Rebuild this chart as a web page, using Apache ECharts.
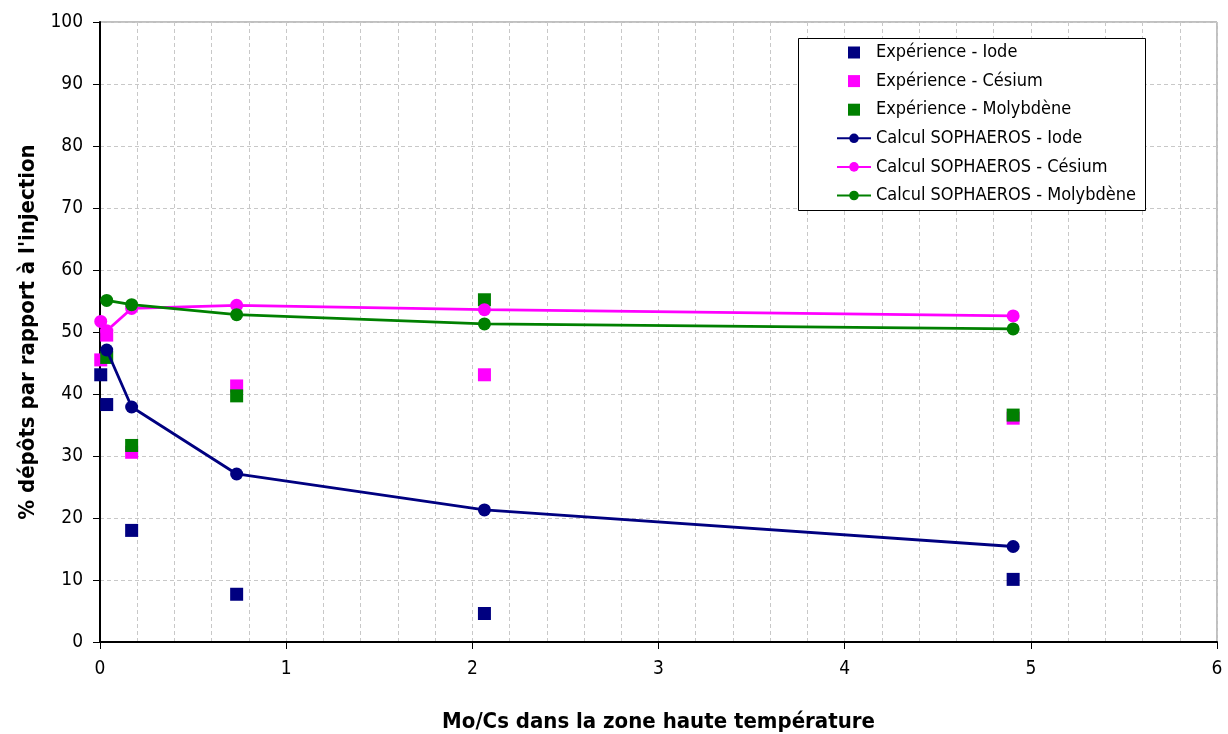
<!DOCTYPE html>
<html><head><meta charset="utf-8">
<script src="https://cdn.jsdelivr.net/npm/echarts@6/dist/echarts.min.js"></script>
<style>html,body{margin:0;padding:0;background:#fff;overflow:hidden}#c{width:1228px;height:734px}</style>
</head><body><div id="c"></div>
<script>
// Mo/Cs values
const expIodeX = [0.004, 0.036, 0.17, 0.734, 2.065, 4.905];
const expIodeY = [43.1, 38.3, 18.0, 7.7, 4.6, 10.1];
const expCsX = [0.004, 0.036, 0.17, 0.734, 2.065, 4.905];
const expCsY = [45.5, 49.5, 30.6, 41.3, 43.1, 36.1];
const expMoX = [0.036, 0.17, 0.734, 2.065, 4.905];
const expMoY = [45.9, 31.7, 39.7, 55.2, 36.6];
const calcIodeX = [0.036, 0.17, 0.734, 2.065, 4.905];
const calcIodeY = [47.1, 37.9, 27.1, 21.3, 15.4];
const calcCsX = [0.004, 0.036, 0.17, 0.734, 2.065, 4.905];
const calcCsY = [51.7, 50.2, 53.8, 54.3, 53.6, 52.6];
const calcMoX = [0.036, 0.17, 0.734, 2.065, 4.905];
const calcMoY = [55.1, 54.4, 52.8, 51.3, 50.5];
const names = ['Expérience - Iode','Expérience - Césium','Expérience - Molybdène',
  'Calcul SOPHAEROS - Iode','Calcul SOPHAEROS - Césium','Calcul SOPHAEROS - Molybdène'];
const colors = ['#000080','#ff00ff','#008000'];

const zip = (xs, ys) => xs.map((x, i) => [x, ys[i]]);
const font = '"DejaVu Sans Condensed", "DejaVu Sans"';
const sq = 'path://M0 0H10V10H0Z';

function scatter(name, xs, ys, c) {
  return {name, type:'scatter', data: zip(xs, ys), symbol:'rect', symbolSize:13,
    itemStyle:{color:c, opacity:1}, z:3};
}
function line(name, xs, ys, c) {
  return {name, type:'line', data: zip(xs, ys), symbol:'circle', symbolSize:13,
    showSymbol:true, lineStyle:{color:c, width:2.8}, itemStyle:{color:c, opacity:1}, z:4};
}

const chart = echarts.init(document.getElementById('c'), null, {renderer:'canvas', width:1228, height:734});
chart.setOption({
  animation:false,
  textStyle:{fontFamily:font},
  grid:{left:100, top:22, width:1117, height:620, show:true, borderColor:'#808080', borderWidth:1,
    containLabel:false, outerBoundsMode:'none'},
  graphic:[{type:'rect', left:798, top:38, z:5, silent:true,
    shape:{width:347, height:172}, style:{fill:'#fff', stroke:'#000', lineWidth:1}}],
  legend:{
    orient:'vertical', left:826, top:43, z:6,
    padding:[0,0,0,10], symbolKeepAspect:true,
    itemWidth:34, itemHeight:12, itemGap:9.6,
    textStyle:{fontFamily:font, fontSize:18, color:'#000', lineHeight:19},
    data: names.map((n,i)=> i<3 ? {name:n, icon:sq} : {name:n})
  },
  xAxis:{
    type:'value', min:0, max:6, interval:1,
    name:'Mo/Cs dans la zone haute température', nameLocation:'middle', nameGap:69,
    nameTextStyle:{fontFamily:font, fontSize:22, fontWeight:'bold', color:'#000'},
    axisLine:{lineStyle:{color:'#000', width:2}},
    axisTick:{show:true, length:7, lineStyle:{color:'#000'}},
    axisLabel:{fontSize:19, color:'#000', margin:18, fontFamily:font},
    splitLine:{show:true, lineStyle:{color:'#c8c8c8', type:[4,3]}},
    minorTick:{show:false, splitNumber:5},
    minorSplitLine:{show:true, lineStyle:{color:'#c8c8c8', type:[4,3]}}
  },
  yAxis:{
    type:'value', min:0, max:100, interval:10,
    name:"% dépôts par rapport à l'injection", nameLocation:'middle', nameGap:61,
    nameTextStyle:{fontFamily:font, fontSize:22, fontWeight:'bold', color:'#000'},
    axisLine:{show:true, lineStyle:{color:'#000', width:2}},
    axisTick:{show:true, length:7, lineStyle:{color:'#000'}},
    axisLabel:{fontSize:19, color:'#000', margin:17, fontFamily:font},
    splitLine:{show:true, lineStyle:{color:'#c8c8c8', type:[4,3]}}
  },
  series:[
    scatter(names[0], expIodeX, expIodeY, colors[0]),
    scatter(names[1], expCsX, expCsY, colors[1]),
    scatter(names[2], expMoX, expMoY, colors[2]),
    line(names[3], calcIodeX, calcIodeY, colors[0]),
    line(names[4], calcCsX, calcCsY, colors[1]),
    line(names[5], calcMoX, calcMoY, colors[2])
  ]
});
</script></body></html>
